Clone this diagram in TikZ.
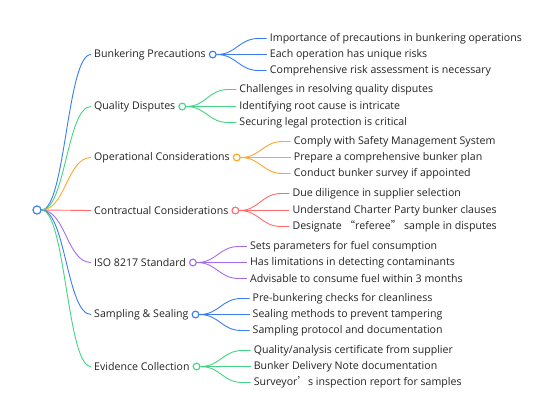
\documentclass[tikz,border=0pt]{standalone}
\usepackage{fontspec}
\setmainfont{Open Sans}
\newfontfamily\cjk{Noto Sans CJK SC}
\usetikzlibrary{calc}
\definecolor{cblue}{HTML}{3B7CF6}
\definecolor{cgreen}{HTML}{45D483}
\definecolor{corange}{HTML}{FFA62B}
\definecolor{cred}{HTML}{FF6B6B}
\definecolor{cpurple}{HTML}{A66CF0}
\definecolor{ctext}{HTML}{222222}
\begin{document}
\begin{tikzpicture}[x=1pt,y=-1pt,
  every node/.style={font=\fontsize{10.6}{12}\selectfont, text=ctext},
  rootdot/.style={circle, draw=cblue, line width=1pt, fill=white, minimum size=8pt, inner sep=0pt},
  dot/.style={circle, line width=1pt, fill=white, minimum size=6.6pt, inner sep=0pt, anchor=west},
  branch/.style={anchor=west, inner xsep=3pt, inner ysep=0pt},
  leaf/.style={anchor=west, inner xsep=3pt, inner ysep=0pt},
  conn/.style={line width=0.9pt},
]
\useasboundingbox (0,0) rectangle (552,416);

% branch texts
\node[branch] (b1) at (91,54.5) {Bunkering Precautions};
\node[branch] (b2) at (91,106.5) {Quality Disputes};
\node[branch] (b3) at (91,157.5) {Operational Considerations};
\node[branch] (b4) at (91,210.5) {Contractual Considerations};
\node[branch] (b5) at (91,262.5) {ISO 8217 Standard};
\node[branch] (b6) at (91,314.5) {Sampling \& Sealing};
\node[branch] (b7) at (91,366.5) {Evidence Collection};

% branch dots
\node[dot, draw=cblue] (c1) at (b1.east) {};
\node[dot, draw=cgreen] (c2) at (b2.east) {};
\node[dot, draw=corange] (c3) at (b3.east) {};
\node[dot, draw=cred] (c4) at (b4.east) {};
\node[dot, draw=cpurple] (c5) at (b5.east) {};
\node[dot, draw=cblue] (c6) at (b6.east) {};
\node[dot, draw=cgreen] (c7) at (b7.east) {};

% leaves
\node[leaf] (l11) at ($(c1.center)+(54,-16)$) {Importance of precautions in bunkering operations};
\node[leaf] (l12) at ($(c1.center)+(54,0)$) {Each operation has unique risks};
\node[leaf] (l13) at ($(c1.center)+(54,16)$) {Comprehensive risk assessment is necessary};
\node[leaf] (l21) at ($(c2.center)+(54,-17)$) {Challenges in resolving quality disputes};
\node[leaf] (l22) at ($(c2.center)+(54,0)$) {Identifying root cause is intricate};
\node[leaf] (l23) at ($(c2.center)+(54,16)$) {Securing legal protection is critical};
\node[leaf] (l31) at ($(c3.center)+(54,-16)$) {Comply with Safety Management System};
\node[leaf] (l32) at ($(c3.center)+(54,0)$) {Prepare a comprehensive bunker plan};
\node[leaf] (l33) at ($(c3.center)+(54,16)$) {Conduct bunker survey if appointed};
\node[leaf] (l41) at ($(c4.center)+(54,-17)$) {Due diligence in supplier selection};
\node[leaf] (l42) at ($(c4.center)+(54,0)$) {Understand Charter Party bunker clauses};
\node[leaf] (l43) at ($(c4.center)+(54,16)$) {Designate {\cjk “}referee{\cjk ”} sample in disputes};
\node[leaf] (l51) at ($(c5.center)+(54,-16)$) {Sets parameters for fuel consumption};
\node[leaf] (l52) at ($(c5.center)+(54,0)$) {Has limitations in detecting contaminants};
\node[leaf] (l53) at ($(c5.center)+(54,16)$) {Advisable to consume fuel within 3 months};
\node[leaf] (l61) at ($(c6.center)+(54,-16)$) {Pre-bunkering checks for cleanliness};
\node[leaf] (l62) at ($(c6.center)+(54,0)$) {Sealing methods to prevent tampering};
\node[leaf] (l63) at ($(c6.center)+(54,16)$) {Sampling protocol and documentation};
\node[leaf] (l71) at ($(c7.center)+(54,-16)$) {Quality/analysis certificate from supplier};
\node[leaf] (l72) at ($(c7.center)+(54,0)$) {Bunker Delivery Note documentation};
\node[leaf] (l73) at ($(c7.center)+(54,16)$) {Surveyor{\cjk ’}s inspection report for samples};

% root
\node[rootdot] (root) at (37,210) {};

% root connectors
\foreach \b/\c in {b1/cblue,b2/cgreen,b3/corange,b4/cred,b5/cpurple,b6/cblue,b7/cgreen}
  \draw[conn, draw=\c] (root.east) .. controls +(24,0) and +(-24,0) .. (\b.west);

% leaf connectors
\foreach \n/\c in {1/cblue,2/cgreen,3/corange,4/cred,5/cpurple,6/cblue,7/cgreen}
  \foreach \k in {1,2,3}
    \draw[conn, draw=\c] (c\n.east) .. controls +(20,0) and +(-20,0) .. ([xshift=-8pt]l\n\k.west) -- (l\n\k.west);

\node[rootdot] at (root) {};
\foreach \n/\c in {1/cblue,2/cgreen,3/corange,4/cred,5/cpurple,6/cblue,7/cgreen}
  \node[dot, draw=\c, anchor=center] at (c\n.center) {};
\end{tikzpicture}
\end{document}
